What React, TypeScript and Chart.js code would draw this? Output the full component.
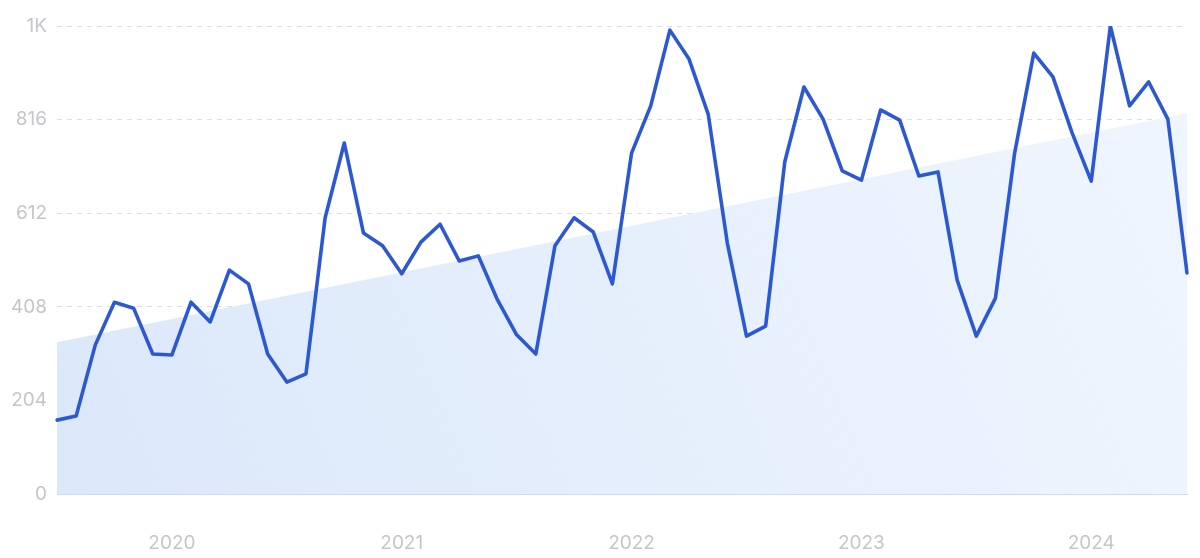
import React, { useEffect, useRef } from "react";
import { Chart, registerables } from "chart.js";

Chart.register(...registerables);

const months: string[] = [
  "2019-07", "2019-08", "2019-09", "2019-10", "2019-11", "2019-12",
  "2020-01", "2020-02", "2020-03", "2020-04", "2020-05", "2020-06",
  "2020-07", "2020-08", "2020-09", "2020-10", "2020-11", "2020-12",
  "2021-01", "2021-02", "2021-03", "2021-04", "2021-05", "2021-06",
  "2021-07", "2021-08", "2021-09", "2021-10", "2021-11", "2021-12",
  "2022-01", "2022-02", "2022-03", "2022-04", "2022-05", "2022-06",
  "2022-07", "2022-08", "2022-09", "2022-10", "2022-11", "2022-12",
  "2023-01", "2023-02", "2023-03", "2023-04", "2023-05", "2023-06",
  "2023-07", "2023-08", "2023-09", "2023-10", "2023-11", "2023-12",
  "2024-01", "2024-02", "2024-03", "2024-04", "2024-05", "2024-06",
];

const searchVolume: number[] = [
  161, 170, 325, 418, 405, 305, 303, 418, 375, 488, 458, 305,
  244, 262, 602, 765, 569, 541, 480, 549, 588, 508, 519, 423,
  347, 305, 541, 602, 571, 458, 743, 846, 1011, 948, 828, 547,
  344, 366, 724, 887, 817, 704, 684, 837, 815, 693, 702, 466,
  344, 427, 743, 961, 909, 787, 682, 1020, 846, 898, 817, 482,
];

const trendStart = 331;
const trendEnd = 830;

const yTicks: number[] = [0, 204, 408, 612, 816, 1020];

export default function App() {
  const canvasRef = useRef<HTMLCanvasElement | null>(null);

  useEffect(() => {
    const canvas = canvasRef.current;
    if (!canvas) return;

    const trendData: (number | null)[] = months.map((_, i) =>
      i === 0 ? trendStart : i === months.length - 1 ? trendEnd : null
    );

    const chart = new Chart(canvas, {
      type: "line",
      data: {
        labels: months,
        datasets: [
          {
            data: searchVolume,
            borderColor: "#2c59d1",
            borderWidth: 3.6,
            pointRadius: 0,
            tension: 0,
            fill: false,
            borderJoinStyle: "round",
            borderCapStyle: "round",
          },
          {
            data: trendData,
            spanGaps: true,
            borderWidth: 0,
            borderColor: "rgba(0,0,0,0)",
            pointRadius: 0,
            tension: 0,
            fill: "origin",
            backgroundColor: (ctx: any) => {
              const ca = ctx.chart.chartArea;
              if (!ca) return "rgba(222,234,250,1)";
              const g = ctx.chart.ctx.createLinearGradient(ca.left, ca.bottom, ca.right, ca.top);
              g.addColorStop(0, "rgba(219,232,250,1)");
              g.addColorStop(1, "rgba(240,246,254,1)");
              return g;
            },
          },
        ],
      },
      options: {
        responsive: false,
        animation: false,
        events: [],
        layout: { padding: { top: 26, right: 13, left: 0, bottom: 0 } },
        plugins: { legend: { display: false }, tooltip: { enabled: false } },
        scales: {
          x: {
            offset: false,
            grid: { display: false, drawTicks: false },
            border: { display: true, color: "#cddcf5", width: 1 },
            ticks: {
              autoSkip: false,
              maxRotation: 0,
              padding: 38,
              color: "#c4c6cc",
              font: { family: "Inter, 'Noto Sans', sans-serif", size: 19 },
              callback: (_v: any, i: number) => {
                const m = months[i];
                return m.endsWith("-01") ? m.slice(0, 4) : "";
              },
            },
            afterFit: (scale: any) => {
              scale.height = 64;
              scale.paddingLeft = 0;
              scale.paddingRight = 0;
            },
          },
          y: {
            min: 0,
            max: 1020,
            afterBuildTicks: (scale: any) => {
              scale.ticks = yTicks.map((v) => ({ value: v }));
            },
            grid: {
              drawTicks: false,
              color: (ctx: any) => (ctx.tick && ctx.tick.value === 0 ? "rgba(0,0,0,0)" : "#d9e0ec"),
              lineWidth: 1,
            },
            border: { display: false, dash: [5, 5] },
            ticks: {
              padding: 10,
              color: "#c4c6cc",
              font: { family: "Inter, 'Noto Sans', sans-serif", size: 19 },
              callback: (v: any) => (v === 1020 ? "1K" : String(v)),
            },
            afterFit: (scale: any) => {
              scale.width = 57;
            },
          },
        },
      },
    });

    return () => chart.destroy();
  }, []);

  return (
    <div style={{ position: "absolute", left: 0, top: 0, width: 1200, height: 558, background: "#fff" }}>
      <canvas ref={canvasRef} width={1200} height={558} />
    </div>
  );
}
